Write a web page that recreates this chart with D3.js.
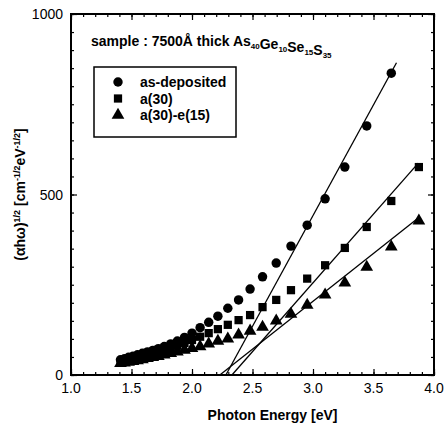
<!DOCTYPE html>
<html>
<head>
<meta charset="utf-8">
<script src="https://cdn.jsdelivr.net/npm/d3@7"></script>
<style>
  body { margin: 0; background: #fff; }
  text { font-family: "Liberation Sans", Arial, sans-serif; fill: #000; }
</style>
</head>
<body>
<svg></svg>
<script>
// photon energies (eV), high to low
const energy = [3.875, 3.647, 3.444, 3.263, 3.100, 2.952, 2.818, 2.696, 2.583, 2.480,
    2.385, 2.296, 2.214, 2.138, 2.067, 2.000, 1.938, 1.879, 1.824, 1.771,
    1.722, 1.676, 1.632, 1.590, 1.550, 1.512, 1.476, 1.442, 1.409];

const asDeposited = [null, 836, 690, 576, 488, 415, 357, 310, 272, 238,
    208, 185, 163, 146, 131, 116, 104, 94, 86, 79,
    73, 68, 64, 60, 56, 52, 49, 45, 42];
const a30 = [576, 482, 410, 352, 304, 267, 235, 208, 188, 166,
    152, 139, 127, 116, 106, 97, 89, 81, 74, 68,
    63, 59, 55, 52, 48, 45, 42, 39, 36];
const a30e15 = [427, 355, 299, 255, 222, 194, 169, 150, 133, 122,
    111, 100, 94, 86, 79, 74, 69, 64, 60, 56,
    52, 49, 46, 43, 40, 38, 36, 34, 32];

// linear fits (start, end)
const fitAsDeposited = [[2.28, 0], [3.69, 865]];
const fitA30 = [[2.33, 0], [3.87, 587]];
const fitA30e15 = [[2.23, 0], [3.87, 435]];

const seriesNames = ['as-deposited', 'a(30)', 'a(30)-e(15)'];
const xTicks = [1.0, 1.5, 2.0, 2.5, 3.0, 3.5, 4.0];
const yTicks = [0, 500, 1000];

const svgWidth = 448;
const svgHeight = 423;
const margin = { top: 14, right: 14, bottom: 48, left: 71 };
const width = svgWidth - margin.left - margin.right;
const height = svgHeight - margin.top - margin.bottom;

const svg = d3.select('svg')
    .attr('width', svgWidth)
    .attr('height', svgHeight)
    .append('g')
    .attr('transform', `translate(${margin.left}, ${margin.top})`);

const xScale = d3.scaleLinear().domain([1, 4]).range([0, width]);
const yScale = d3.scaleLinear().domain([0, 1000]).range([height, 0]);

const xMinor = d3.range(10, 41).map(d => d / 10);
const yMinor = d3.range(0, 1001, 50);

function tickAxis(axis, values, size, transform) {
    const g = svg.append('g')
        .attr('transform', transform)
        .call(axis.tickValues(values).tickSize(size).tickFormat(''));
    g.select('.domain').remove();
    g.selectAll('line').attr('stroke', '#000').attr('stroke-width', 1.2);
}

// inward ticks on all four sides
tickAxis(d3.axisBottom(xScale), xMinor, -3, `translate(0, ${height})`);
tickAxis(d3.axisBottom(xScale), xTicks, -6, `translate(0, ${height})`);
tickAxis(d3.axisTop(xScale), xMinor, -3, 'translate(0, 0)');
tickAxis(d3.axisTop(xScale), xTicks, -6, 'translate(0, 0)');
tickAxis(d3.axisLeft(yScale), yMinor, -3, 'translate(0, 0)');
tickAxis(d3.axisLeft(yScale), yTicks, -6, 'translate(0, 0)');
tickAxis(d3.axisRight(yScale), yMinor, -3, `translate(${width}, 0)`);
tickAxis(d3.axisRight(yScale), yTicks, -6, `translate(${width}, 0)`);

svg.append('rect')
    .attr('width', width)
    .attr('height', height)
    .attr('fill', 'none')
    .attr('stroke', '#000')
    .attr('stroke-width', 2);

// tick labels
svg.selectAll('.xlab')
    .data(xTicks)
    .enter().append('text')
    .attr('x', d => xScale(d))
    .attr('y', height + 18)
    .attr('text-anchor', 'middle')
    .attr('font-size', '14px')
    .text(d => d.toFixed(1));

svg.selectAll('.ylab')
    .data(yTicks)
    .enter().append('text')
    .attr('x', -8)
    .attr('y', d => yScale(d) + 5)
    .attr('text-anchor', 'end')
    .attr('font-size', '14px')
    .text(d => d);

// axis titles
svg.append('text')
    .attr('x', width / 2 + 20)
    .attr('y', height + 45)
    .attr('text-anchor', 'middle')
    .attr('font-size', '14px')
    .attr('font-weight', 'bold')
    .text('Photon Energy [eV]');

const yTitle = svg.append('text')
    .attr('transform', `translate(-46, ${height / 2}) rotate(-90)`)
    .attr('text-anchor', 'middle')
    .attr('font-size', '14px')
    .attr('font-weight', 'bold');
yTitle.append('tspan').text('(αhω)');
yTitle.append('tspan').attr('dy', -5).attr('font-size', '9px').text('1/2');
yTitle.append('tspan').attr('dy', 5).text(' [cm');
yTitle.append('tspan').attr('dy', -5).attr('font-size', '9px').text('-1/2');
yTitle.append('tspan').attr('dy', 5).text('eV');
yTitle.append('tspan').attr('dy', -5).attr('font-size', '9px').text('-1/2');
yTitle.append('tspan').attr('dy', 5).text(']');

// sample label
const title = svg.append('text')
    .attr('x', 20)
    .attr('y', 32)
    .attr('font-size', '14px')
    .attr('font-weight', 'bold');
const parts = [['sample : 7500Å thick As', '40'], ['Ge', '10'], ['Se', '15'], ['S', '35']];
parts.forEach(p => {
    title.append('tspan').text(p[0]);
    title.append('tspan').attr('dy', 3).attr('font-size', '8px').text(p[1]);
    title.append('tspan').attr('dy', -3).text('');
});

// fit lines
const line = d3.line()
    .x(d => xScale(d[0]))
    .y(d => yScale(d[1]));

[fitAsDeposited, fitA30, fitA30e15].forEach(f => {
    svg.append('path')
        .datum(f)
        .attr('fill', 'none')
        .attr('stroke', '#000')
        .attr('stroke-width', 1.3)
        .attr('d', line);
});

// markers
const symbols = [d3.symbolCircle, d3.symbolSquare, d3.symbolTriangle];
const sizes = [70, 68, 70];
const seriesValues = [asDeposited, a30, a30e15];

seriesValues.forEach((vals, i) => {
    const pts = energy.map((e, j) => ({ e, v: vals[j] })).filter(d => d.v != null);
    svg.selectAll(`.s${i}`)
        .data(pts)
        .enter().append('path')
        .attr('class', `s${i}`)
        .attr('transform', d => `translate(${xScale(d.e)}, ${yScale(d.v)})`)
        .attr('d', d3.symbol().type(symbols[i]).size(sizes[i]))
        .attr('fill', '#000');
});

// legend
const legend = svg.append('g').attr('transform', 'translate(23, 53)');
legend.append('rect')
    .attr('width', 142)
    .attr('height', 70)
    .attr('fill', '#fff')
    .attr('stroke', '#000')
    .attr('stroke-width', 1.5);

seriesNames.forEach((name, i) => {
    legend.append('path')
        .attr('transform', `translate(24, ${15 + i * 16.5})`)
        .attr('d', d3.symbol().type(symbols[i]).size(sizes[i]))
        .attr('fill', '#000');
    legend.append('text')
        .attr('x', 46)
        .attr('y', 15 + i * 16.5 + 5)
        .attr('font-size', '14px')
        .attr('font-weight', 'bold')
        .text(name);
});
</script>
</body>
</html>
